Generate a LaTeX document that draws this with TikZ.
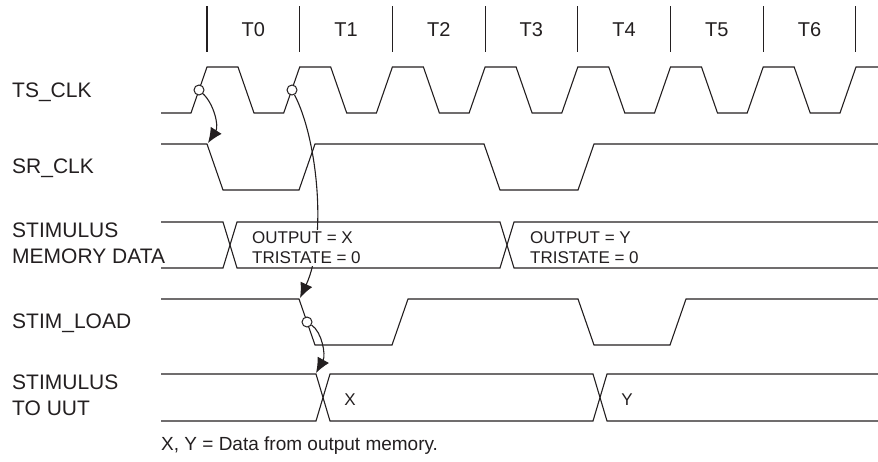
\documentclass[tikz,border=0pt]{standalone}
\usepackage{fontspec}
\setmainfont{Liberation Sans}
\usetikzlibrary{arrows.meta}

\definecolor{ink}{RGB}{35,31,32}

\tikzset{
  sig/.style={draw=ink, line width=1.1pt, line join=miter},
  lbl/.style={anchor=west, align=left, inner sep=0pt, text=ink, font=\fontsize{21}{26.5}\selectfont},
  val/.style={anchor=west, align=left, fill=white, inner sep=2pt, text=ink, font=\fontsize{17}{20}\selectfont},
  edgemark/.style={circle, draw=ink, fill=white, line width=1pt, minimum size=10pt, inner sep=0pt},
  cause/.style={draw=ink, line width=1.1pt, -{Latex[length=15pt,width=13pt]}},
}

\begin{document}
\begin{tikzpicture}[x=1pt, y=-1pt]
    \useasboundingbox (0,0) rectangle (878,461);

    % period ticks and names
    \foreach \k in {0,...,7}
      \draw[sig] ({207+92.7*\k},6) -- ({207+92.7*\k},52);
    \foreach \k in {0,...,6}
      \node[text=ink, font=\fontsize{20}{24}\selectfont] (t\k) at ({253.3+92.7*\k},30) {T\k};

    % signal names
    \node[lbl] (tsclk) at (12,92) {TS\_CLK};
    \node[lbl] (srclk) at (12,168) {SR\_CLK};
    \node[lbl] (memdata) at (12,243.5) {STIMULUS\\MEMORY DATA};
    \node[lbl] (stimload) at (12,323) {STIM\_LOAD};
    \node[lbl] (uut) at (12,395.5) {STIMULUS\\TO UUT};

    % waveforms
    \draw[sig] (161,113)
      \foreach \k in {0,...,6} { -- ({191+92.7*\k},113) -- ({207+92.7*\k},67) -- ({238+92.7*\k},67) -- ({254+92.7*\k},113) }
      -- (840,113) -- (856,67) -- (878,67);
    \draw[sig] (161,144) -- (207,144) -- (223,190) -- (299,190) -- (315,144) -- (484,144) -- (500,190) -- (578,190) -- (594,144) -- (878,144);
    \draw[sig] (161,222) -- (223,222) -- (237,268) -- (500,268) -- (514,222) -- (878,222);
    \draw[sig] (161,268) -- (223,268) -- (237,222) -- (500,222) -- (514,268) -- (878,268);
    \draw[sig] (161,299) -- (299,299) -- (315,345) -- (392,345) -- (408,299) -- (578,299) -- (594,345) -- (670,345) -- (686,299) -- (878,299);
    \draw[sig] (161,374) -- (316,374) -- (330,421) -- (593,421) -- (607,374) -- (878,374);
    \draw[sig] (161,421) -- (316,421) -- (330,374) -- (593,374) -- (607,421) -- (878,421);

    % edge marks and arrows
    \node[edgemark] (c1) at (199,90) {};
    \node[edgemark] (c2) at (292,90) {};
    \node[edgemark] (c3) at (307,322) {};
    \coordinate (a1) at (208,143);
    \coordinate (a2) at (300,298);
    \coordinate (a3) at (316,373);
    \draw[cause] (c1) .. controls (214,104) and (219,126) .. (a1);
    \draw[cause] (c2) .. controls (318,140) and (327,240) .. (a2);
    \draw[cause] (c3) .. controls (322,332) and (326,355) .. (a3);

    % values
    \node[val] (outx) at (250,248) {OUTPUT = X\\TRISTATE = 0};
    \node[val] (outy) at (528,248) {OUTPUT = Y\\TRISTATE = 0};
    \node[text=ink, font=\fontsize{17}{20}\selectfont] (xval) at (350,400) {X};
    \node[text=ink, font=\fontsize{17}{20}\selectfont] (yval) at (627,400) {Y};

    \node[anchor=west, inner sep=0pt, text=ink, font=\fontsize{19}{22}\selectfont] (note) at (161,446) {X, Y = Data from output memory.};
\end{tikzpicture}
\end{document}
